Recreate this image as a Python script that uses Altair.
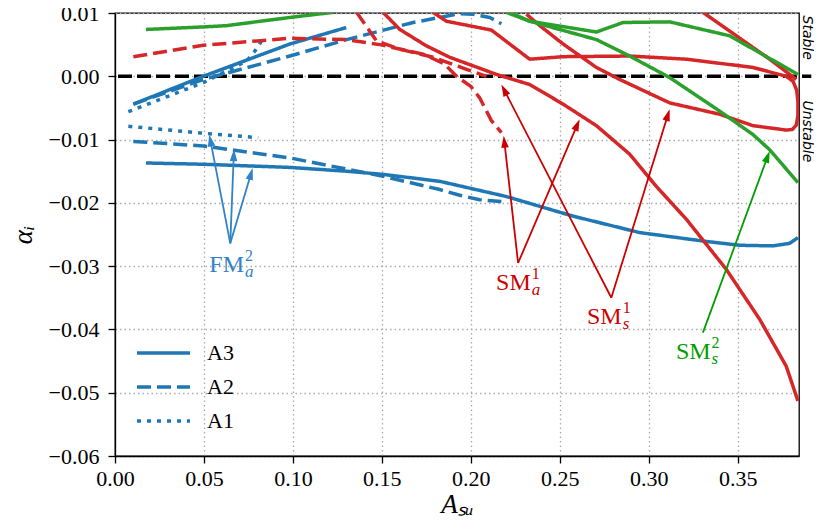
import math
import altair as alt
import pandas as pd

# ---------------- curve data ----------------
# FM_a^2 (blue)
fm_a3_low_x = [0.0174, 0.0496, 0.0983, 0.1302, 0.1507, 0.1826, 0.2200, 0.2575, 0.2950, 0.3324, 0.3511, 0.3698, 0.3792, 0.3839]
fm_a3_low_y = [-0.0137, -0.0139, -0.0144, -0.0150, -0.0155, -0.0166, -0.0190, -0.0221, -0.0247, -0.0261, -0.0267, -0.0268, -0.0264, -0.0255]
fm_a3_up_x = [0.0103, 0.0300, 0.0496, 0.0983, 0.1300]
fm_a3_up_y = [-0.0044, -0.0022, 0.0000, 0.0051, 0.0077]
fm_a2_low_x = [0.0103, 0.0496, 0.0983, 0.1507, 0.1826, 0.1938, 0.2050, 0.2172]
fm_a2_low_y = [-0.0103, -0.0110, -0.0129, -0.0158, -0.0179, -0.0188, -0.0195, -0.0198]
fm_a2_up_x = [0.0103, 0.0496, 0.0983, 0.1302, 0.1676, 0.1938, 0.2013, 0.2107, 0.2172]
fm_a2_up_y = [-0.0044, -0.0005, 0.0032, 0.0058, 0.0085, 0.0099, 0.0098, 0.0093, 0.0083]
fm_a1_low_x = [0.0075, 0.0496, 0.0805]
fm_a1_low_y = [-0.0079, -0.0090, -0.0097]
fm_a1_up_x = [0.0075, 0.0496, 0.0740, 0.0787, 0.0824]
fm_a1_up_y = [-0.0056, -0.0010, 0.0024, 0.0040, 0.0056]

# SM^1 (red)
sm1_a2_a_x = [0.0103, 0.0496, 0.0983, 0.1300, 0.1489, 0.1732, 0.1850, 0.1920, 0.2000, 0.2050, 0.2116, 0.2172]
sm1_a2_a_y = [0.0031, 0.0049, 0.0060, 0.0058, 0.0050, 0.0035, 0.0020, 0.0000, -0.0016, -0.0034, -0.0070, -0.0089]
sm1_a2_b_x = [0.1358, 0.1470, 0.1600, 0.1788, 0.1976, 0.2088]
sm1_a2_b_y = [0.0101, 0.0056, 0.0043, 0.0030, 0.0011, 0.0000]
sm1_c1_x = [0.1507, 0.1601, 0.1751, 0.1882, 0.2144, 0.2331, 0.2519, 0.2706, 0.2893, 0.3043, 0.3212, 0.3436, 0.3624, 0.3773, 0.3839]
sm1_c1_y = [0.0101, 0.0074, 0.0048, 0.0030, 0.0003, -0.0013, -0.0044, -0.0078, -0.0123, -0.0174, -0.0226, -0.0305, -0.0384, -0.0458, -0.0513]
sm1_loop_x = [0.1788, 0.1863, 0.2116, 0.2331, 0.2519, 0.2893, 0.3212, 0.3586, 0.3773, 0.3812, 0.3832, 0.3839, 0.3839, 0.3830, 0.3808, 0.3773,
              0.3586, 0.3399, 0.3118, 0.2837, 0.2706, 0.2519, 0.2388, 0.2313]
sm1_loop_y = [0.0101, 0.0087, 0.0073, 0.0027, 0.0031, 0.0032, 0.0027, 0.0014, 0.0000, -0.0008, -0.0022, -0.0040, -0.0062, -0.0077, -0.0084, -0.0085,
              -0.0078, -0.0060, -0.0042, -0.0005, 0.0014, 0.0051, 0.0080, 0.0098]
sm1_c3_x = [0.3305, 0.3493, 0.3680, 0.3830]
sm1_c3_y = [0.0101, 0.0064, 0.0027, -0.0005]

# SM^2 (green)
sm2_ul_x = [0.0174, 0.0496, 0.0627, 0.0983, 0.1226]
sm2_ul_y = [0.0074, 0.0078, 0.0080, 0.0093, 0.0101]
sm2_c1_x = [0.2200, 0.2331, 0.2706, 0.2856, 0.3118, 0.3455, 0.3839]
sm2_c1_y = [0.0101, 0.0087, 0.0070, 0.0085, 0.0086, 0.0064, 0.0003]
sm2_c2_x = [0.2220, 0.2331, 0.2706, 0.2893, 0.3118, 0.3399, 0.3586, 0.3680, 0.3839]
sm2_c2_y = [0.0101, 0.0087, 0.0058, 0.0032, -0.0002, -0.0055, -0.0092, -0.0116, -0.0168]

curves = [
    ("fm_a3_low", "FM", "A3", fm_a3_low_x, fm_a3_low_y),
    ("fm_a3_up", "FM", "A3", fm_a3_up_x, fm_a3_up_y),
    ("fm_a2_low", "FM", "A2", fm_a2_low_x, fm_a2_low_y),
    ("fm_a2_up", "FM", "A2", fm_a2_up_x, fm_a2_up_y),
    ("fm_a1_low", "FM", "A1", fm_a1_low_x, fm_a1_low_y),
    ("fm_a1_up", "FM", "A1", fm_a1_up_x, fm_a1_up_y),
    ("sm1_a2_a", "SM1", "A2", sm1_a2_a_x, sm1_a2_a_y),
    ("sm1_a2_b", "SM1", "A2", sm1_a2_b_x, sm1_a2_b_y),
    ("sm1_c1", "SM1", "A3", sm1_c1_x, sm1_c1_y),
    ("sm1_loop", "SM1", "A3", sm1_loop_x, sm1_loop_y),
    ("sm1_c3", "SM1", "A3", sm1_c3_x, sm1_c3_y),
    ("sm2_ul", "SM2", "A3", sm2_ul_x, sm2_ul_y),
    ("sm2_c1", "SM2", "A3", sm2_c1_x, sm2_c1_y),
    ("sm2_c2", "SM2", "A3", sm2_c2_x, sm2_c2_y),
]

# arrows: tail -> head
arrow_tail_x = [0.0648, 0.0648, 0.0648, 0.2266, 0.2266, 0.2790, 0.2790, 0.3305]
arrow_tail_y = [-0.0264, -0.0264, -0.0264, -0.0295, -0.0295, -0.0350, -0.0350, -0.0405]
arrow_head_x = [0.0530, 0.0669, 0.0774, 0.2185, 0.2612, 0.2172, 0.3118, 0.3680]
arrow_head_y = [-0.0092, -0.0115, -0.0145, -0.0094, -0.0068, -0.0013, -0.0052, -0.0118]
arrow_group = ["FM", "FM", "FM", "SM1", "SM1", "SM1", "SM1", "SM2"]

# labels (anchor = end of main text, baseline)
label_x = [0.0725, 0.2337, 0.2848, 0.3348]
label_y = [-0.0310, -0.0337, -0.0392, -0.0446]
label_main = ["FM", "SM", "SM", "SM"]
label_sup = ["2", "1", "1", "2"]
label_sub = ["a", "a", "s", "s"]
label_group = ["FM", "SM1", "SM1", "SM2"]

stab_x = [0.3888, 0.3888]
stab_y = [0.0061, -0.0087]
stab_text = ["Stable", "Unstable"]

zero_x = [0.0017]
zero_x2 = [0.3914]

X_MAX = 0.3845
Y_MIN, Y_MAX = -0.06, 0.01
W, H = 684, 443
KX = W / X_MAX
KY = H / (Y_MAX - Y_MIN)

SERIF = "Liberation Serif"
curve_colors = {"FM": "#1f77b4", "SM1": "#d62728", "SM2": "#2ca02c"}
annot_colors = {"FM": "#3182c8", "SM1": "#cc0000", "SM2": "#009e00"}

rows = []
for cid, fam, case, xs_, ys_ in curves:
    for i, (xv, yv) in enumerate(zip(xs_, ys_)):
        rows.append(dict(cid=cid, fam=fam, case=case, x=xv, y=yv, o=i))
df = pd.DataFrame(rows)

arows = []
for tx, ty, hx, hy, g in zip(arrow_tail_x, arrow_tail_y, arrow_head_x, arrow_head_y, arrow_group):
    dxp = (hx - tx) * KX
    dyp = (hy - ty) * KY  # up positive
    L = math.hypot(dxp, dyp)
    ux, uy = dxp / L, dyp / L
    back = 8.0
    ang = math.degrees(math.atan2(dxp, dyp)) % 360
    arows.append(dict(tx=tx, ty=ty, hx=hx, hy=hy,
                      sx=hx - back * ux / KX, sy=hy - back * uy / KY,
                      ang=ang, col=annot_colors[g]))
adf = pd.DataFrame(arows)

ldf = pd.DataFrame(dict(x=label_x, y=label_y, main=label_main, sup=label_sup, sub=label_sub,
                        col=[annot_colors[g] for g in label_group]))
sdf = pd.DataFrame(dict(x=stab_x, y=stab_y, t=stab_text))
zdf = pd.DataFrame(dict(x=zero_x, x2=zero_x2, y=[0.0]))

xs = alt.Scale(domain=[0, X_MAX], nice=False, zero=False)
ys = alt.Scale(domain=[Y_MIN, Y_MAX], nice=False, zero=False)

xaxis = alt.Axis(values=[0, 0.05, 0.10, 0.15, 0.20, 0.25, 0.30, 0.35], format=".2f", title="Aₛᵤ",
                 labelFlush=False, labelOverlap=False, labelPadding=5, titlePadding=2)
yaxis = alt.Axis(values=[-0.06, -0.05, -0.04, -0.03, -0.02, -0.01, 0.0, 0.01], format=".2f", title="αᵢ",
                 labelFlush=False, labelOverlap=False, labelPadding=9, titlePadding=11)

zero = alt.Chart(zdf).mark_rule(color="black", strokeWidth=3.5, strokeDash=[14, 5], clip=False).encode(
    x=alt.X("x:Q", scale=xs, axis=xaxis), x2="x2:Q", y=alt.Y("y:Q", scale=ys, axis=yaxis))

lines = alt.Chart(df).mark_line(strokeWidth=3.5, clip=True, strokeJoin="round").encode(
    x=alt.X("x:Q", scale=xs, axis=xaxis),
    y=alt.Y("y:Q", scale=ys, axis=yaxis),
    detail="cid:N",
    order="o:Q",
    color=alt.Color("fam:N", scale=alt.Scale(domain=list(curve_colors), range=list(curve_colors.values())), legend=None),
    strokeDash=alt.StrokeDash("case:N", scale=alt.Scale(domain=["A3", "A2", "A1"], range=[[1, 0], [14, 6], [4, 6]]),
                              legend=alt.Legend(title=None, orient="none", legendX=20, legendY=329,
                                                symbolType="stroke", symbolSize=2809, symbolStrokeWidth=3.5,
                                                symbolStrokeColor="#1f77b4", labelFont=SERIF, labelFontSize=22,
                                                labelColor="black", labelOffset=15, clipHeight=22,
                                                rowPadding=12, padding=0)),
)

shafts = alt.Chart(adf).mark_rule(strokeWidth=1.8).encode(
    x="tx:Q", y="ty:Q", x2="sx:Q", y2="sy:Q", color=alt.Color("col:N", scale=None))

heads = alt.Chart(adf).mark_point(shape="M0,0L-0.5,1.6L0.5,1.6Z", size=225, filled=True, opacity=1).encode(
    x="hx:Q", y="hy:Q", angle=alt.Angle("ang:Q", scale=None), color=alt.Color("col:N", scale=None))

lab_main = alt.Chart(ldf).mark_text(font=SERIF, fontSize=24, align="right", baseline="alphabetic").encode(
    x="x:Q", y="y:Q", text="main:N", color=alt.Color("col:N", scale=None))
lab_sup = alt.Chart(ldf).mark_text(font=SERIF, fontSize=16, align="left", baseline="alphabetic", dx=1, dy=-11).encode(
    x="x:Q", y="y:Q", text="sup:N", color=alt.Color("col:N", scale=None))
lab_sub = alt.Chart(ldf).mark_text(font=SERIF, fontSize=17, fontStyle="italic", align="left", baseline="alphabetic", dx=1, dy=5).encode(
    x="x:Q", y="y:Q", text="sub:N", color=alt.Color("col:N", scale=None))

stab = alt.Chart(sdf).mark_text(font="DejaVu Sans", fontSize=14, fontStyle="italic", angle=90,
                                align="center", baseline="middle", clip=False, color="black").encode(
    x="x:Q", y="y:Q", text="t:N")

chart = alt.layer(zero, lines, shafts, heads, lab_main, lab_sup, lab_sub, stab).resolve_scale(
    color="independent"
).properties(
    width=W, height=H,
    autosize=alt.AutoSizeParams(type="none"),
    padding={"left": 107, "top": 5, "right": 15, "bottom": 70},
).configure_view(
    stroke="black", strokeWidth=1.3
).configure_axis(
    labelFont=SERIF, labelFontSize=22, labelColor="black",
    titleFont=SERIF, titleFontSize=27, titleFontStyle="italic", titleFontWeight="normal", titleColor="black",
    tickColor="black", tickSize=7, tickWidth=1.3, domainColor="black", domainWidth=1.3,
    grid=True, gridColor="#aaaaaa", gridDash=[1.5, 3], gridWidth=1.3,
)

chart.save("out.html", embed_options={"renderer": "svg", "actions": False})
